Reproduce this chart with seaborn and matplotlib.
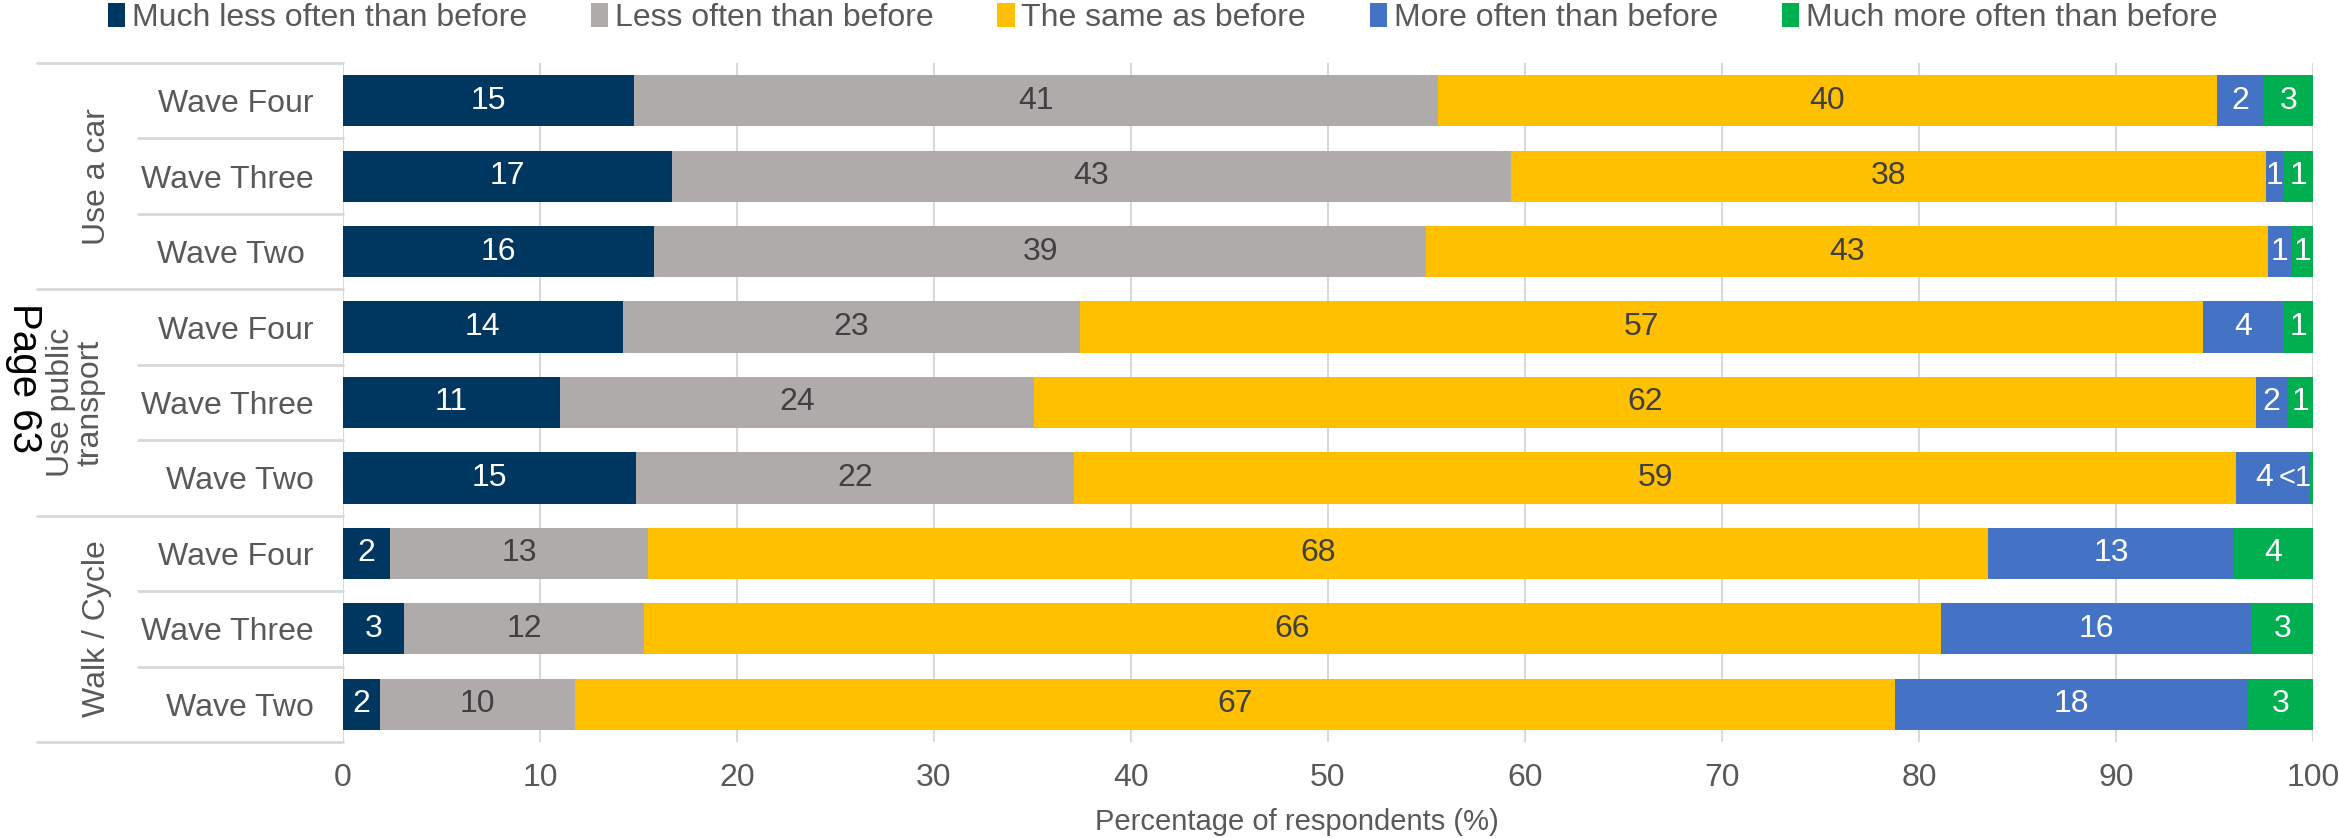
import numpy as np
import pandas as pd
import matplotlib.pyplot as plt
import matplotlib.transforms as mtransforms
from matplotlib.patches import Patch
import seaborn as sns

# categories (stack order, left to right)
categories = ['Much less often than before', 'Less often than before', 'The same as before',
              'More often than before', 'Much more often than before']
colors = ['#003760', '#AFABAB', '#FFC000', '#4472C4', '#00B050']
label_colors = ['white', '#404040', '#404040', 'white', 'white']

# rows, top to bottom
groups = ['Use a car', 'Use public\ntransport', 'Walk / Cycle']
row_ids = ['car4', 'car3', 'car2', 'pt4', 'pt3', 'pt2', 'walk4', 'walk3', 'walk2']
row_labels = ['Wave Four', 'Wave Three', 'Wave Two ',
              'Wave Four', 'Wave Three', 'Wave Two',
              'Wave Four', 'Wave Three', 'Wave Two']

# percentages
much_less = [14.8, 16.7, 15.8, 14.2, 11.0, 14.9, 2.4, 3.1, 1.9]
less = [40.8, 42.6, 39.2, 23.2, 24.1, 22.2, 13.1, 12.2, 9.9]
same = [39.5, 38.3, 42.7, 57.0, 62.0, 59.0, 68.0, 65.8, 67.0]
more = [2.4, 0.9, 1.2, 4.1, 1.6, 3.7, 12.5, 15.8, 17.9]
much_more = [2.5, 1.5, 1.1, 1.5, 1.3, 0.2, 4.0, 3.1, 3.3]

# labels printed in the bars
lab_much_less = ['15', '17', '16', '14', '11', '15', '2', '3', '2']
lab_less = ['41', '43', '39', '23', '24', '22', '13', '12', '10']
lab_same = ['40', '38', '43', '57', '62', '59', '68', '66', '67']
lab_more = ['2', '1', '1', '4', '2', '4', '13', '16', '18']
lab_much_more = ['3', '1', '1', '1', '1', '<1', '4', '3', '3']

sns.set_style('white')
plt.rcParams['font.family'] = ['Liberation Sans', 'DejaVu Sans']
FS = 23
GREY_TXT = '#595959'
LINE = '#D9D9D9'

series = [much_less, less, same, more, much_more]
labels = [lab_much_less, lab_less, lab_same, lab_more, lab_much_more]
cum = np.cumsum(np.array(series), axis=0)

fig, ax = plt.subplots(figsize=(23.39, 8.38), dpi=100)
fig.subplots_adjust(left=0.1466, right=0.9889, top=0.9248, bottom=0.1146)

# stacked bars: draw cumulative totals from the back to the front
for i in range(len(series) - 1, -1, -1):
    df = pd.DataFrame({'row': row_ids, 'value': cum[i]})
    sns.barplot(data=df, x='value', y='row', order=row_ids, orient='h', color=colors[i],
                saturation=1, width=0.68, linewidth=0, ax=ax, zorder=2)

# value labels (a tiny segment gets its label pushed to the bar end,
# and the label before it is nudged left to make room)
for i, (vals, labs) in enumerate(zip(series, labels)):
    for j, (v, t) in enumerate(zip(vals, labs)):
        if v < 0.5:
            ax.annotate(t, (cum[i][j], j), xytext=(-1, 0), textcoords='offset points',
                        ha='right', va='center', fontsize=21, color=label_colors[i], zorder=3)
        else:
            dx = -6 if i + 1 < len(series) and series[i + 1][j] < 0.5 else 0
            ax.annotate(t, (cum[i][j] - v / 2, j), xytext=(dx, 0), textcoords='offset points',
                        ha='center', va='center', fontsize=FS, color=label_colors[i], zorder=3)

ax.set_xlim(0, 100)
ax.set_ylim(len(row_ids) - 0.5, -0.5)
ax.set_xticks(range(0, 101, 10))
ax.set_yticks(range(len(row_ids)))
ax.set_yticklabels(row_labels)
ax.tick_params(axis='both', length=0, labelsize=FS, labelcolor=GREY_TXT)
ax.tick_params(axis='y', pad=21)
ax.tick_params(axis='x', pad=15)
ax.set_ylabel('')
ax.set_xlabel('Percentage of respondents (%)', fontsize=21, color=GREY_TXT)
ax.xaxis.set_label_coords(0.484, -0.097)
ax.set_axisbelow(True)
ax.xaxis.grid(True, color=LINE, lw=1.5)
ax.yaxis.grid(False)
for s in ax.spines.values():
    s.set_visible(False)

# separator lines in the category area
trans = mtransforms.blended_transform_factory(ax.transAxes, ax.transData)
for k in range(len(row_ids) + 1):
    y = k - 0.5
    x0 = -0.1553 if k % 3 == 0 else -0.104
    ax.plot([x0, 0], [y, y], color=LINE, lw=2, transform=trans, clip_on=False)

# group labels
group_x = [-0.1249, -0.1355, -0.1249]
for g, (name, gx) in enumerate(zip(groups, group_x)):
    ax.text(gx, 3 * g + 1, name, transform=trans, rotation=90, ha='center', va='center',
            fontsize=FS, color=GREY_TXT, multialignment='center', linespacing=1.0)

fig.text(0.0103, 0.549, 'Page 63', rotation=270, ha='center', va='center', fontsize=29, color='black')

handles = [Patch(facecolor=c, edgecolor='none') for c in colors]
leg = fig.legend(handles, categories, loc='center', bbox_to_anchor=(0.497, 0.9785), ncol=5,
                 frameon=False, fontsize=FS, handlelength=0.55, handleheight=0.75,
                 handletextpad=0.2, columnspacing=2.0)
for t in leg.get_texts():
    t.set_color(GREY_TXT)

fig.savefig('out.png', dpi=100)
